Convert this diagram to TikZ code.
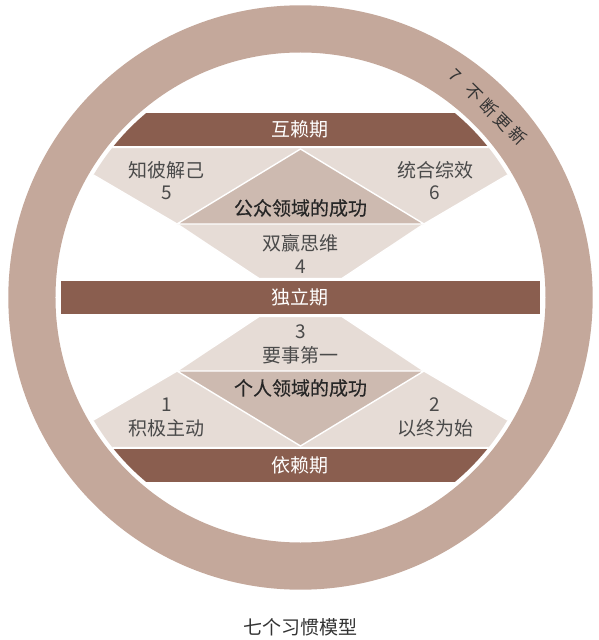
\documentclass[tikz,border=0pt]{standalone}
\usepackage{fontspec}
\setmainfont{Noto Sans CJK SC}
\newfontfamily\realmfont[FakeBold=0.3]{Noto Sans CJK SC}
\definecolor{ringtan}{HTML}{C4A89B}
\definecolor{bandbrown}{HTML}{8A5E4F}
\definecolor{palepink}{HTML}{E6DCD6}
\definecolor{midpink}{HTML}{CDBAB0}
\definecolor{habitgray}{HTML}{4A4A4A}
\begin{document}
\begin{tikzpicture}[x=1pt,y=1pt,
  band/.style={fill=bandbrown},
  bandtext/.style={text=white,inner sep=0pt,font=\fontsize{19}{19}\selectfont},
  habit/.style={text=habitgray,inner sep=0pt,font=\fontsize{19}{19}\selectfont},
  realm/.style={text=black!85,inner sep=0pt,font=\realmfont\fontsize{19}{19}\selectfont},
  renew/.style={text=black!80,inner sep=0pt,font=\fontsize{17}{17}\selectfont},
  gap/.style={draw=white,line width=1.4pt}]
  % Configurable parameters
  \def\outerR{292.2}
  \def\innerR{245}
  \def\clipR{240.5}
  \def\wide{3.5pt}
  %
  \useasboundingbox (-300.5,-342.5) rectangle (298.5,297.5);
  %
  % Ring
  \fill[ringtan,even odd rule] (0,0) circle (\outerR pt) (0,0) circle (\innerR pt);
  %
  % Upper and lower halves (the lower one mirrored)
  \begin{scope}
    \clip (0,0) circle (\clipR pt);
    \foreach \s in {1,-1} {
      \begin{scope}[yscale=\s]
        \filldraw[fill=palepink,gap] (-254,150) -- (254,150) -- (123.5,73.5)
          -- (41.5,19) -- (-41.5,19) -- (-123.5,73.5) -- cycle;
        \filldraw[fill=midpink,gap] (0,148.5) -- (123.5,73.5) -- (-123.5,73.5) -- cycle;
        \fill[band] (-260,151) rectangle (260,184.5);
      \end{scope}
    }
    \fill[band] (-239.5,-16.7) rectangle (239.5,16.7);
  \end{scope}
  %
  % Stages
  \node[bandtext] (interdep) at (0,167.7) {互赖期};
  \node[bandtext] (indep) at (0,0) {独立期};
  \node[bandtext] (dep) at (0,-167.7) {依赖期};
  %
  % Public victory
  \node[realm] (public) at (0,89.5) {公众领域的成功};
  \node[habit] (hab5) at (-133.5,127.5) {知彼解己};
  \node[habit] (num5) at (-133.5,104.5) {5};
  \node[habit] (hab6) at (134.5,127.5) {统合综效};
  \node[habit] (num6) at (134.5,104.5) {6};
  \node[habit] (hab4) at (0,54.5) {双赢思维};
  \node[habit] (num4) at (0,30.5) {4};
  %
  % Private victory
  \node[realm] (private) at (0,-90.5) {个人领域的成功};
  \node[habit] (num3) at (0,-34.5) {3};
  \node[habit] (hab3) at (0,-57.5) {要事第一};
  \node[habit] (num1) at (-133.5,-107.5) {1};
  \node[habit] (hab1) at (-133.5,-130.5) {积极主动};
  \node[habit] (num2) at (134.5,-107.5) {2};
  \node[habit] (hab2) at (134.5,-130.5) {以终为始};
  %
  % Habit 7 on the ring
  \node[renew,rotate=-44.4] (renew) at (45.4:267.5pt)
    {7\hspace{12.5pt}不\hspace{\wide}断\hspace{\wide}更\hspace{\wide}新};
  %
  \node[renew,font=\fontsize{19}{19}\selectfont] (title) at (0,-329.5) {七个习惯模型};
\end{tikzpicture}
\end{document}
